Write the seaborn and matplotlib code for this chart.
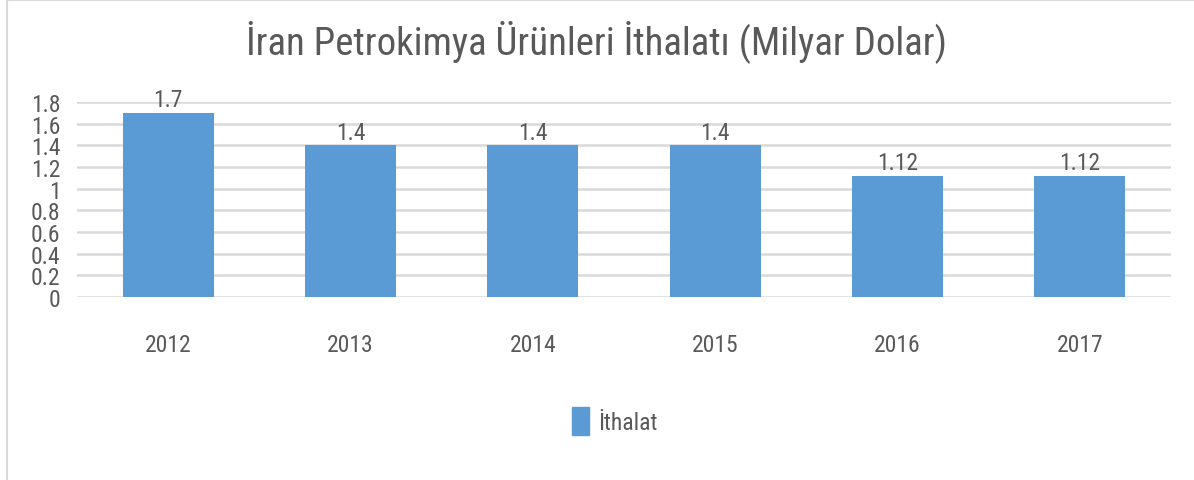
import matplotlib
matplotlib.use("Agg")
import matplotlib.pyplot as plt
import seaborn as sns
import pandas as pd
from matplotlib.patches import Patch
from matplotlib.lines import Line2D

years = ["2012", "2013", "2014", "2015", "2016", "2017"]
values = [1.7, 1.4, 1.4, 1.4, 1.12, 1.12]
value_labels = ["1.7", "1.4", "1.4", "1.4", "1.12", "1.12"]
yticks = [0, 0.2, 0.4, 0.6, 0.8, 1.0, 1.2, 1.4, 1.6, 1.8]
ytick_labels = ["0", "0.2", "0.4", "0.6", "0.8", "1", "1.2", "1.4", "1.6", "1.8"]
title = "İran Petrokimya Ürünleri İthalatı (Milyar Dolar)"
series_name = "İthalat"

sns.set_theme(style="white")
plt.rcParams["font.family"] = ["Roboto Condensed", "Roboto", "DejaVu Sans"]
plt.rcParams["font.stretch"] = "condensed"

bar_color = "#5B9BD5"
text_color = "#595959"

df = pd.DataFrame({"year": years, "value": values})

fig = plt.figure(figsize=(11.94, 4.81), dpi=100)
ax = fig.add_axes([77/1194, 1-298/481, (1171-77)/1194, (298-103)/481])

sns.barplot(data=df, x="year", y="value", color=bar_color, width=0.5,
            saturation=1, ax=ax, zorder=3, edgecolor=bar_color, linewidth=0)

ax.set_xlim(-0.5, 5.5)
ax.set_ylim(0, 1.8)
ax.set_yticks(yticks)
ax.set_yticklabels(ytick_labels)
ax.yaxis.grid(True, color="#d9d9d9", linewidth=1.8, zorder=0)
ax.set_axisbelow(True)
for s in ax.spines.values():
    s.set_visible(False)
ax.tick_params(axis="y", labelsize=17, colors=text_color, length=0, pad=12)
ax.tick_params(axis="x", labelsize=17, colors=text_color, length=0, pad=26)
ax.set_xlabel("")
ax.set_ylabel("")

for i, (v, lab) in enumerate(zip(values, value_labels)):
    ax.annotate(lab, (i, v), xytext=(0, 1), textcoords="offset points",
                ha="center", va="bottom", fontsize=17, color=text_color)

fig.text(0.5, 1-42/481, title, ha="center", va="center", fontsize=28,
         color=text_color)

handles = [Patch(facecolor=bar_color, edgecolor=bar_color)]
fig.legend(handles, [series_name], loc="center", bbox_to_anchor=(0.515, 1-422/481),
           frameon=False, fontsize=17, handlelength=0.7, handleheight=1.4,
           handletextpad=0.4, labelcolor=text_color)

# chart border
fig.add_artist(Line2D([7/1194, 7/1194], [0, 1], transform=fig.transFigure,
                      color="#d9d9d9", linewidth=1.5))
fig.add_artist(Line2D([7/1194, 1], [1-1/481, 1-1/481], transform=fig.transFigure,
                      color="#d9d9d9", linewidth=1.5))

fig.savefig("out.png", dpi=100, facecolor="white")
